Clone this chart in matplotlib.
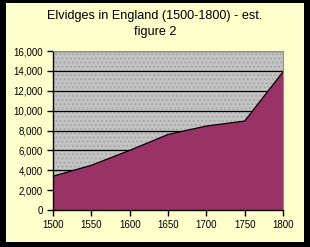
#!/usr/bin/env python3
"""
Elvidges in England (1500-1800) - estimated area chart.
"""
import matplotlib
matplotlib.use("Agg")
import matplotlib.pyplot as plt
from matplotlib.patches import Rectangle
from matplotlib.ticker import FuncFormatter

years = [1500, 1550, 1600, 1650, 1700, 1750, 1800]
population = [3400, 4500, 6000, 7600, 8450, 8950, 13900]
y_ticks = list(range(0, 16001, 2000))

W, H = 310, 247


def main() -> None:
    fig = plt.figure(figsize=(W / 100, H / 100), dpi=100, facecolor="black")
    fig.patches.append(Rectangle((6 / W, 5 / H), 298 / W, 239 / H,
                                 transform=fig.transFigure, facecolor="#ffffcc",
                                 edgecolor="none", zorder=-5))

    fig.text(0.5, 1 - 16 / H, "Elvidges in England (1500-1800) - est.",
             ha="center", va="center", fontsize=9.1, family="Liberation Sans")
    fig.text(0.5, 1 - 32 / H, "figure 2",
             ha="center", va="center", fontsize=9.1, family="Liberation Sans")

    ax = fig.add_axes([53 / W, 37 / H, 230 / W, 159 / H])
    ax.set_facecolor("#c4c4c4")
    ax.add_patch(Rectangle((0, 0), 1, 1, transform=ax.transAxes, facecolor="none",
                           edgecolor="#a8a8a8", hatch="....", linewidth=0, zorder=0))

    for v in y_ticks[1:]:
        ax.axhline(v, color="black", linewidth=0.9, zorder=1)

    ax.fill_between(years, population, 0, facecolor="#993366", edgecolor="none", zorder=2)
    ax.plot(years, population, color="black", linewidth=0.9, zorder=3)

    ax.set_xlim(1500, 1800)
    ax.set_ylim(0, 16000)
    ax.set_xticks(years)
    ax.set_yticks(y_ticks)
    ax.yaxis.set_major_formatter(FuncFormatter(lambda v, p: f"{int(v):,}"))

    for side in ("top", "right"):
        ax.spines[side].set_color("#909090")
        ax.spines[side].set_linewidth(0.8)
    for side in ("left", "bottom"):
        ax.spines[side].set_color("black")
        ax.spines[side].set_linewidth(1.0)

    ax.tick_params(axis="both", direction="out", length=4, width=1, color="black",
                   labelsize=7, pad=3.5)
    for lab in ax.get_xticklabels() + ax.get_yticklabels():
        lab.set_family("Liberation Sans")

    fig.savefig("out.png", dpi=100, facecolor=fig.get_facecolor())
    plt.close(fig)


if __name__ == "__main__":
    main()
